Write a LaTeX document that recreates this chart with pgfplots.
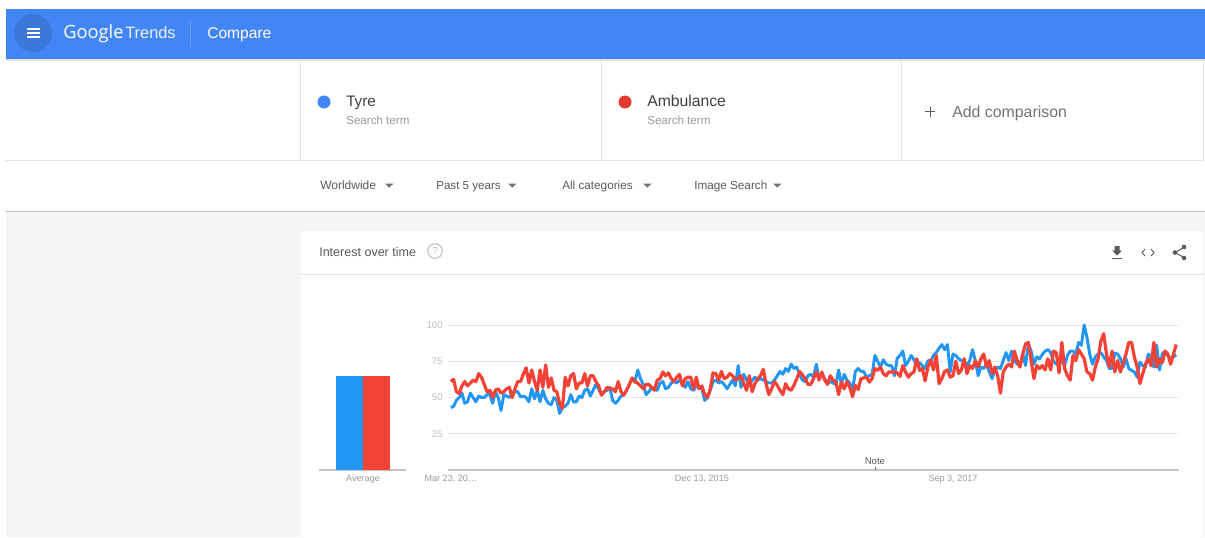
\documentclass[border=0pt]{standalone}
\usepackage{pgfplots}
\usepackage{pgfplotstable}
\usepackage{fontspec}
\pgfplotsset{compat=1.18}
\setmainfont{Liberation Sans}
\newfontfamily\logofont{Open Sans}
\definecolor{hdr}{HTML}{4285F4}
\definecolor{hdrd}{HTML}{3B78DC}
\definecolor{sblue}{HTML}{2196F3}
\definecolor{sred}{HTML}{F44336}
\definecolor{dotred}{HTML}{E53A2F}
\definecolor{rule}{HTML}{E3E3E3}
\definecolor{pagegray}{HTML}{F5F5F5}
\definecolor{txt}{HTML}{5A5A5A}
\definecolor{sub}{HTML}{9A9A9A}
\definecolor{tick}{HTML}{BDBDBD}
\definecolor{grid}{HTML}{E8E8E8}
\definecolor{base}{HTML}{C4C4C4}
\newcommand{\fs}[1]{\fontsize{#1}{#1}\selectfont}
\pgfplotstableread[row sep=\\]{
w t a\\
0 43 61\\ 1 44 62.5\\ 2 48 54\\ 3 50 52.7\\ 4 53 58\\ 5 46 61\\ 6 47 58\\ 7 53 60\\ 8 50 62\\ 9 47 61\\
10 51 66.5\\ 11 50 64\\ 12 50 59\\ 13 52 54\\ 14 52 55\\ 15 46 50\\ 16 54 55\\ 17 50 56\\ 18 41 53\\ 19 52 54\\
20 51 56\\ 21 50 57\\ 22 53 50\\ 23 54 56\\ 24 54 61\\ 25 50.5 61\\ 26 51 66\\ 27 50 70.5\\ 28 47 60\\ 29 56 69\\
30 49 61\\ 31 55 55\\ 32 47 69\\ 33 55 57\\ 34 49 72.5\\ 35 46 57\\ 36 45 63.5\\ 37 50 55\\ 38 48 54\\ 39 39 46\\
40 43 42.5\\ 41 44 64\\ 42 46 58\\ 43 52 65\\ 44 47 66.5\\ 45 47 56\\ 46 51 60\\ 47 50 60\\ 48 55 66.5\\ 49 56 58\\
50 51 65\\ 51 55 65\\ 52 59 61\\ 53 56 58\\ 54 52 51.6\\ 55 54 54\\ 56 55 57\\ 57 57 56\\ 58 48 56\\ 59 46 54\\
60 48 61\\ 61 51 54\\ 62 52 51.6\\ 63 55 55\\ 64 59 59\\ 65 63 63.5\\ 66 61 60.7\\ 67 69 60\\ 68 63 58\\ 69 59 56\\
70 52 59\\ 71 54 59\\ 72 57 57\\ 73 56 55\\ 74 55 62\\ 75 60 63\\ 76 61 67.6\\ 77 56 65\\ 78 57 67\\ 79 60 63\\
80 61 61\\ 81 60 64\\ 82 62 66\\ 83 60 58\\ 84 57 63\\ 85 61 64\\ 86 56 64\\ 87 55 56\\ 88 58 64\\ 89 57 56\\
90 56 58\\ 91 48 52\\ 92 50 50\\ 93 55 56\\ 94 61 67\\ 95 62 66.5\\ 96 60 62\\ 97 61 68\\ 98 59 63\\ 99 56 64\\
100 59 66.5\\ 101 62 65\\ 102 58 62\\ 103 72 63\\ 104 57 65\\ 105 66 59.5\\ 106 62 55\\ 107 58 65\\ 108 62 54\\ 109 64 59.5\\
110 62 63\\ 111 63 65\\ 112 62 69.4\\ 113 61 59.5\\ 114 60 52\\ 115 60 56\\ 116 62 61\\ 117 65 58.4\\ 118 68 55\\ 119 66 52\\
120 70 59.5\\ 121 68 56\\ 122 73 55\\ 123 70 58.4\\ 124 71 63\\ 125 66 68\\ 126 62 65.7\\ 127 61 63\\ 128 65 59\\ 129 66 59\\
130 64 63\\ 131 73 67.6\\ 132 63 62\\ 133 66 67.6\\ 134 63 62\\ 135 60 59\\ 136 61 65\\ 137 60 62\\ 138 59 60.7\\ 139 69 52\\
140 59 60.7\\ 141 66 56\\ 142 62 61\\ 143 60 57\\ 144 55 50.5\\ 145 68 58.4\\ 146 70 55.5\\ 147 68 63\\ 148 68 63.5\\ 149 64 64\\
150 65 60.7\\ 151 66 63\\ 152 79 70\\ 153 75 68.7\\ 154 71 71\\ 155 76 66.5\\ 156 73 65\\ 157 72 67.6\\ 158 72 67.6\\ 159 65 67.6\\
160 77 67\\ 161 79 64.6\\ 162 82 72\\ 163 72 67.6\\ 164 75 64\\ 165 79 66.5\\ 166 76 67.6\\ 167 72 76.7\\ 168 74 68.7\\ 169 72 70\\
170 70 61.4\\ 171 75.5 71\\ 172 75 76\\ 173 79 69\\ 174 81 79\\ 175 84 59.6\\ 176 86.5 63\\ 177 83 68\\ 178 86.5 69\\ 179 67.6 64\\
180 80 65\\ 181 79 75\\ 182 76.7 66.5\\ 183 75.5 69\\ 184 75 76.7\\ 185 72 66.5\\ 186 75.5 72\\ 187 83 70\\ 188 75.5 75.5\\ 189 65 71\\
190 71 76.7\\ 191 70 80\\ 192 73 71\\ 193 67.6 75.5\\ 194 63 66.5\\ 195 69 71\\ 196 71 65\\ 197 70 53\\ 198 75.5 67.6\\ 199 81 71\\
200 75.5 73\\ 201 82 71\\ 202 75.5 82\\ 203 73 75.5\\ 204 72 71\\ 205 80 80\\ 206 72 87\\ 207 87 88\\ 208 82 75.5\\ 209 73 63\\
210 78 72\\ 211 76.7 70\\ 212 79.7 72\\ 213 82 69\\ 214 83 76.7\\ 215 81 69\\ 216 75 82\\ 217 73 81\\ 218 75.5 67\\ 219 75 88\\
220 72 70\\ 221 79 65\\ 222 82 62\\ 223 82 79\\ 224 80 75.5\\ 225 88 83\\ 226 86 80\\ 227 100 76.7\\ 228 91.5 67.6\\ 229 80 66.5\\
230 73 62\\ 231 78 71\\ 232 80 76.7\\ 233 81 89\\ 234 78 94\\ 235 75.5 80\\ 236 70 71\\ 237 70 82\\ 238 80.6 67.6\\ 239 80 75.5\\
240 76.7 67.6\\ 241 71 74\\ 242 76.7 80\\ 243 70 88\\ 244 68.7 88\\ 245 67.6 78\\ 246 64 71\\ 247 74.4 59.6\\ 248 72 66.5\\ 249 71 73\\
250 80 76.7\\ 251 78 72\\ 252 71 88\\ 253 86 71\\ 254 69 76.7\\ 255 80 74\\ 256 82 82\\ 257 79 80\\ 258 76.7 73\\ 259 78 80\\
260 79.5 86.5\\
}\trendtable
\pgfplotstableread[row sep=\\]{
pos val\\
0 65\\
}\avgtyre
\pgfplotstableread[row sep=\\]{
pos val\\
1 65\\
}\avgamb
\begin{document}
\begin{tikzpicture}[x=0.75pt,y=-0.75pt,line cap=butt]
\useasboundingbox (0,0) rectangle (1205,537);
\fill[white] (0,0) rectangle (1205,537);
% page and card
\fill[pagegray] (6,212) rectangle (1205,537);
\fill[rule!85!black] (6,210.5) rectangle (1205,212);
\fill[white] (301,231) rectangle (1203,537);
\draw[rule,line width=0.75pt] (301,274) -- (1203,274);
% header
\fill[rule] (6,59) rectangle (1205,61);
\fill[hdr] (6,9) rectangle (1205,59);
\fill[hdrd] (33,33) circle (19);
\foreach \yy in {29,33,37} \draw[white,line width=1.1pt] (27,\yy) -- (40,\yy);
\node[anchor=base west,inner sep=0,white] at (63,38) {\logofont\fs{13.7}Google};
\node[anchor=base west,inner sep=0,white,opacity=.9] at (125,38) {\fs{12.3}Trends};
\draw[white,opacity=.2,line width=0.6pt] (190,21) -- (190,47);
\node[anchor=base west,inner sep=0,white] at (207,38.5) {\fs{11.7}Compare};
% search term boxes
\draw[rule,line width=0.75pt] (6,160) -- (1203,160);
\foreach \xx in {300.5,601,901.5,1203} \draw[rule,line width=0.75pt] (\xx,60) -- (\xx,160);
\fill[hdr] (324,102) circle (6.5);
\node[anchor=base west,inner sep=0,text=txt!70!black] at (346,106) {\fs{11.4}Tyre};
\node[anchor=base west,inner sep=0,text=sub] at (346,124) {\fs{8.7}Search term};
\fill[dotred] (625,102) circle (6.5);
\node[anchor=base west,inner sep=0,text=txt!70!black] at (647,106) {\fs{11.8}Ambulance};
\node[anchor=base west,inner sep=0,text=sub] at (647,124) {\fs{8.7}Search term};
\draw[txt,line width=0.7pt] (925,111.5) -- (935,111.5) (930,106.5) -- (930,116.5);
\node[anchor=base west,inner sep=0,text=txt!85!white] at (952,117) {\fs{11.9}Add comparison};
% filters
\node[anchor=base west,inner sep=0,text=txt] at (320,189.5) {\fs{9}Worldwide};
\fill[txt!85!white] (385,183.5) -- (393.5,183.5) -- (389.25,187.7) -- cycle;
\node[anchor=base west,inner sep=0,text=txt] at (436,189.5) {\fs{8.7}Past 5 years};
\fill[txt!85!white] (508,183.5) -- (516.5,183.5) -- (512.25,187.7) -- cycle;
\node[anchor=base west,inner sep=0,text=txt] at (562,189.5) {\fs{8.8}All categories};
\fill[txt!85!white] (643,183.5) -- (651.5,183.5) -- (647.25,187.7) -- cycle;
\node[anchor=base west,inner sep=0,text=txt] at (694,189.5) {\fs{8.8}Image Search};
\fill[txt!85!white] (773,183.5) -- (781.5,183.5) -- (777.25,187.7) -- cycle;
% card header
\node[anchor=base west,inner sep=0,text=txt] at (319,256) {\fs{9.4}Interest over time};
\draw[tick,line width=0.8pt] (435,251) circle (7.3);
\node[inner sep=0,text=tick] at (435,251) {\fs{8}?};
% icons
\fill[txt] (1114.5,246) rectangle (1119.5,250.5) (1112,250.5) -- (1122,250.5) -- (1117,255.5) -- cycle;
\fill[txt] (1112,258) rectangle (1122,259.3);
\draw[txt,line width=0.7pt] (1145,249) -- (1142,252.5) -- (1145,256) (1151,249) -- (1154,252.5) -- (1151,256);
\draw[txt,line width=0.8pt] (1184,247.5) -- (1175,252.5) -- (1184,257.5);
\fill[txt] (1184,247) circle (2.3) (1175,252.5) circle (2.3) (1184,258) circle (2.3);
% average bars
\begin{axis}[
  at={(239.25pt,-352.5pt)},anchor=south west,scale only axis,
  width=65.25pt,height=108.75pt,
  xmin=-1.13,xmax=2.09,ymin=0,ymax=100,
  axis x line=bottom,axis y line=none,
  axis line style={draw=base,-,line width=0.8pt},
  xtick={0.5},xticklabels={Average},
  major tick length=0pt,
  xticklabel style={text=sub,font=\fs{6.8},yshift=-0.5pt},
  clip=false]
\addplot[ybar,bar width=20.7pt,bar shift=0pt,fill=sblue,draw=none] table[x=pos,y=val]{\avgtyre};
\addplot[ybar,bar width=20.25pt,bar shift=0pt,fill=sred,draw=none] table[x=pos,y=val]{\avgamb};
\end{axis}
% trend lines
\begin{axis}[
  at={(336pt,-352.5pt)},anchor=south west,scale only axis,
  width=548.25pt,height=108.75pt,
  xmin=-1,xmax=261,ymin=0,ymax=100,
  axis x line=bottom,axis y line=left,
  x axis line style={draw=base,-,line width=0.8pt},
  y axis line style={draw=none,-},
  ytick={25,50,75,100},yticklabels={25,50,75,100},
  xtick={0,90,180},xticklabels={{Mar 23, 20\ldots},{Dec 13, 2015},{Sep 3, 2017}},
  ymajorgrids,grid style={draw=grid,line width=0.75pt},
  major tick length=0pt,
  /pgf/number format/assume math mode=true,
  xticklabel style={text=sub,font=\fs{6.8},yshift=-0.5pt},
  yticklabel style={text=tick,font=\fs{7.2},xshift=-0.5pt},
  clip=false]
\addplot[sblue,line width=2.2pt,line join=round] table[x=w,y=t]{\trendtable};
\addplot[sred,line width=2.4pt,line join=round] table[x=w,y=a]{\trendtable};
\draw[txt,line width=0.4pt] (axis cs:152,0) -- (axis cs:152,2);
\node[text=txt,inner sep=0,font=\fs{7.2}] at (axis cs:152,6) {Note};
\end{axis}
\end{tikzpicture}
\end{document}
